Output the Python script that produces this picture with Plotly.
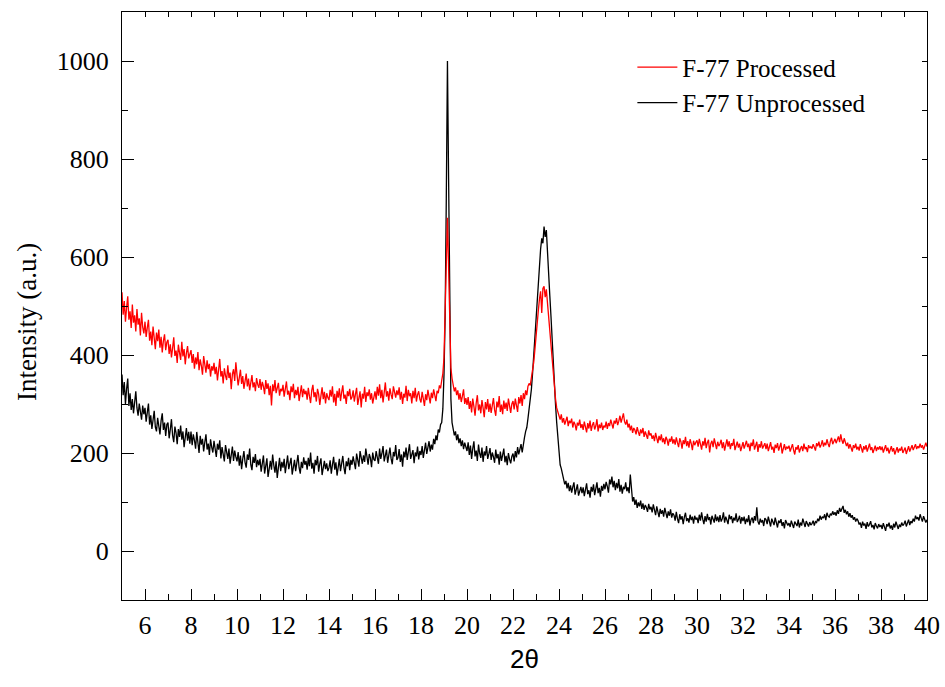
import numpy as np
import plotly.graph_objects as go

# 2-theta sampling grid (degrees), 0.05 deg step from 5.00 to 40.00
two_theta = np.round(np.arange(0, 701) * 0.05 + 5.0, 2)

# F-77 Unprocessed intensity (a.u.); two lines per degree (x.00 ... x.95)
unprocessed = [
    360, 318, 345, 300, 331, 352, 296, 322, 288, 310,
    281, 305, 326, 292, 276, 301, 284, 268, 297, 279,
    292, 264, 283, 301, 258, 277, 249, 270, 286, 253,
    244, 272, 259, 238, 266, 281, 247, 262, 235, 258,
    262, 230, 248, 269, 236, 222, 254, 241, 218, 249,
    233, 256, 227, 244, 212, 238, 251, 225, 243, 219,
    244, 216, 238, 226, 209, 243, 221, 200, 235, 217,
    229, 203, 222, 238, 207, 219, 196, 228, 212, 201,
    225, 204, 192, 219, 207, 226, 189, 212, 198, 183,
    216, 201, 188, 209, 178, 196, 213, 184, 205, 192,
    183, 202, 174, 195, 167, 188, 204, 181, 170, 197,
    186, 209, 176, 165, 192, 180, 198, 171, 186, 175,
    188, 162, 180, 195, 158, 176, 189, 151, 172, 184,
    166, 197, 175, 160, 183, 149, 170, 190, 163, 182,
    170, 188, 159, 181, 195, 167, 178, 190, 156, 174,
    186, 163, 179, 196, 170, 158, 182, 169, 191, 176,
    184, 166, 190, 173, 201, 168, 180, 158, 186, 175,
    194, 162, 178, 189, 155, 172, 184, 167, 179, 163,
    170, 185, 158, 176, 192, 166, 181, 154, 172, 188,
    163, 179, 194, 170, 157, 183, 173, 190, 165, 186,
    176, 193, 181, 167, 199, 185, 172, 204, 188, 178,
    195, 182, 209, 186, 176, 198, 190, 171, 201, 187,
    184, 204, 192, 178, 209, 188, 199, 214, 183, 196,
    207, 180, 194, 211, 189, 177, 202, 193, 216, 186,
    190, 208, 182, 197, 172, 203, 191, 211, 186, 199,
    218, 188, 196, 206, 179, 201, 193, 213, 187, 204,
    196, 214, 190, 209, 221, 198, 212, 224, 203, 217,
    207, 229, 218, 236, 226, 248, 242, 258, 262, 290,
    360, 480, 720, 1000, 760, 450, 310, 262, 248, 236,
    244, 226, 238, 220, 230, 214, 226, 208, 221, 212,
    204, 222, 196, 215, 188, 209, 224, 193, 205, 184,
    217, 199, 190, 211, 182, 203, 195, 214, 188, 198,
    210, 186, 201, 192, 180, 207, 189, 198, 176, 203,
    184, 196, 209, 181, 194, 175, 200, 187, 179, 193,
    199, 183, 204, 191, 212, 197, 206, 218, 201, 224,
    232, 244, 252, 270, 288, 310, 330, 362, 400, 440,
    486, 522, 558, 594, 616, 638, 628, 662, 641, 655,
    602, 568, 522, 480, 428, 384, 338, 298, 262, 228,
    192, 176, 168, 158, 150, 136, 143, 128, 139, 122,
    134, 119, 131, 140, 115, 127, 136, 113, 125, 131,
    118, 130, 112, 127, 138, 116, 124, 109, 131, 121,
    136, 114, 126, 140, 118, 129, 111, 133, 123, 137,
    126, 141, 132, 119, 146, 136, 152, 130, 143, 124,
    139, 128, 147, 121, 135, 117, 131, 126, 140, 122,
    130, 118, 156, 124, 101, 110, 94, 105, 88, 99,
    91, 103, 86, 97, 84, 94, 89, 80, 96, 85,
    90, 79, 95, 84, 73, 91, 80, 69, 86, 76,
    83, 70, 88, 74, 67, 81, 72, 85, 68, 77,
    73, 62, 80, 66, 57, 75, 64, 71, 55, 69,
    78, 61, 67, 58, 74, 63, 70, 56, 72, 64,
    68, 57, 74, 62, 79, 65, 55, 71, 60, 76,
    63, 69, 54, 72, 66, 58, 75, 61, 70, 59,
    73, 60, 66, 79, 58, 70, 63, 55, 74, 65,
    71, 57, 68, 62, 77, 59, 64, 72, 56, 69,
    61, 70, 55, 66, 59, 73, 52, 64, 68, 57,
    71, 62, 89, 60, 54, 66, 58, 63, 51, 67,
    64, 55, 70, 58, 50, 66, 61, 53, 68, 56,
    48, 62, 57, 65, 51, 59, 46, 63, 55, 52,
    57, 49, 62, 53, 47, 60, 55, 51, 64, 48,
    58, 52, 66, 54, 49, 61, 56, 50, 59, 53,
    56, 62, 52, 60, 58, 66, 61, 72, 64, 70,
    67, 75, 63, 78, 71, 69, 76, 73, 81, 74,
    79, 72, 83, 76, 88, 80, 86, 92, 78, 84,
    75, 81, 70, 77, 68, 73, 64, 69, 60, 66,
    62, 54, 58, 47, 60, 52, 56, 45, 59, 50,
    54, 61, 48, 53, 44, 57, 51, 46, 55, 49,
    53, 45, 57, 49, 41, 55, 50, 58, 46, 52,
    43, 56, 48, 60, 51, 45, 54, 49, 58, 52,
    55, 62, 50, 58, 64, 53, 61, 57, 66, 60,
    72, 65, 69, 62, 75, 67, 60, 71, 63, 58,
    64,
]

# F-77 Processed intensity (a.u.)
processed = [
    528, 482, 510, 468, 497, 520, 472, 489, 455, 503,
    466, 481, 448, 494, 462, 475, 440, 486, 457, 444,
    468, 437, 456, 472, 429, 448, 420, 458, 435, 412,
    446, 428, 452, 415, 437, 405, 429, 442, 410, 426,
    431, 402, 422, 395, 414, 436, 398, 409, 384, 421,
    405, 390, 427, 397, 412, 381, 404, 418, 393, 400,
    410, 384, 402, 372, 395, 381, 406, 369, 391, 378,
    360, 398, 385, 364, 389, 371, 382, 356, 377, 368,
    384, 361, 376, 348, 370, 392, 356, 367, 342, 373,
    358, 349, 379, 353, 364, 330, 361, 371, 347, 385,
    360, 338, 354, 370, 341, 357, 331, 349, 362, 336,
    352, 328, 347, 359, 334, 344, 326, 353, 340, 333,
    351, 329, 345, 336, 320, 349, 331, 342, 318, 337,
    297, 340, 326, 349, 322, 335, 343, 317, 331, 326,
    339, 315, 332, 346, 319, 327, 308, 336, 324, 341,
    312, 329, 318, 335, 306, 326, 338, 314, 331, 320,
    327, 309, 333, 316, 302, 328, 339, 314, 324, 305,
    331, 320, 298, 317, 334, 310, 325, 301, 322, 313,
    308, 329, 315, 336, 303, 321, 296, 327, 313, 332,
    306, 324, 338, 311, 319, 300, 326, 316, 331, 309,
    314, 328, 305, 320, 333, 298, 317, 326, 293, 321,
    311, 335, 304, 324, 316, 330, 309, 322, 301, 318,
    326, 309, 335, 317, 340, 312, 329, 303, 321, 344,
    315, 326, 307, 332, 319, 310, 336, 323, 313, 328,
    318, 334, 309, 325, 300, 321, 313, 337, 306, 329,
    316, 322, 301, 327, 312, 333, 305, 319, 326, 310,
    303, 325, 311, 296, 320, 308, 329, 314, 301, 323,
    312, 330, 318, 306, 327, 322, 338, 332, 348, 362,
    395, 470, 585, 680, 560, 432, 374, 352, 338, 326,
    334, 318, 328, 309, 322, 304, 316, 330, 300, 312,
    298, 314, 290, 306, 283, 311, 295, 276, 302, 318,
    287, 299, 281, 308, 292, 273, 304, 289, 310, 284,
    301, 282, 297, 312, 288, 276, 305, 293, 316, 284,
    299, 279, 307, 290, 303, 286, 311, 295, 282, 300,
    306, 289, 311, 297, 284, 314, 301, 318, 296, 322,
    310, 328, 318, 336, 342, 338, 352, 368, 385, 410,
    442, 468, 490, 514, 530, 486, 536, 540, 518, 534,
    505, 488, 462, 430, 392, 360, 332, 310, 292, 281,
    276, 268, 279, 262, 271, 258, 267, 274, 255, 266,
    261, 270, 252, 264, 258, 246, 262, 256, 268, 251,
    259, 247, 264, 253, 242, 261, 250, 266, 245, 257,
    263, 248, 255, 269, 244, 258, 251, 262, 247, 256,
    252, 264, 249, 261, 255, 268, 258, 250, 266, 260,
    271, 257, 265, 276, 262, 270, 281, 264, 258, 268,
    252, 260, 246, 256, 241, 251, 247, 238, 253, 243,
    235, 248, 240, 251, 233, 244, 238, 229, 246, 236,
    240, 229, 236, 224, 241, 231, 220, 235, 226, 238,
    222, 230, 218, 233, 227, 215, 229, 223, 234, 219,
    228, 217, 232, 221, 212, 230, 223, 209, 226, 218,
    233, 214, 224, 211, 228, 219, 206, 225, 216, 222,
    226, 213, 229, 218, 207, 224, 215, 231, 210, 221,
    227, 201, 219, 225, 212, 230, 216, 208, 223, 214,
    219, 227, 210, 222, 205, 218, 228, 213, 224, 208,
    220, 215, 229, 206, 217, 223, 211, 219, 204, 216,
    222, 209, 217, 225, 212, 219, 204, 221, 214, 228,
    207, 216, 223, 202, 218, 211, 224, 209, 215, 220,
    208, 219, 204, 215, 222, 207, 213, 200, 217, 210,
    220, 205, 214, 221, 199, 212, 218, 206, 213, 209,
    215, 203, 211, 218, 206, 197, 212, 207, 216, 201,
    209, 214, 204, 219, 208, 212, 202, 216, 210, 213,
    209, 218, 212, 205, 220, 214, 223, 211, 217, 226,
    213, 221, 216, 228, 219, 212, 224, 231, 218, 225,
    229, 220, 227, 234, 222, 238, 226, 219, 230, 224,
    214, 221, 209, 218, 212, 203, 216, 210, 219, 207,
    213, 205, 218, 209, 201, 214, 207, 216, 203, 211,
    219, 206, 212, 200, 210, 215, 204, 212, 207, 214,
    206, 213, 201, 209, 216, 204, 211, 199, 208, 214,
    203, 210, 197, 206, 212, 201, 209, 205, 213, 200,
    204, 211, 198, 207, 214, 203, 209, 216, 206, 212,
    218, 208, 214, 210, 219, 211, 216, 207, 215, 221,
    213,
]

assert len(unprocessed) == len(two_theta), len(unprocessed)
assert len(processed) == len(two_theta), len(processed)

series_names = ["F-77 Unprocessed", "F-77 Processed"]
x_range = [5, 40]
y_range = [-100, 1100]

SERIF = "Liberation Serif, Times New Roman, serif"

fig = go.Figure()
fig.add_trace(go.Scatter(x=two_theta, y=unprocessed, mode="lines", name=series_names[0],
                         line=dict(color="#000000", width=1.3)))
fig.add_trace(go.Scatter(x=two_theta, y=processed, mode="lines", name=series_names[1],
                         line=dict(color="#FF0000", width=1.3)))
# empty trace to activate the mirrored top/right tick axes
fig.add_trace(go.Scatter(x=[], y=[], xaxis="x2", yaxis="y2", showlegend=False, hoverinfo="skip"))

fig.update_layout(
    width=945, height=687,
    margin=dict(l=122, r=18, t=12, b=87, autoexpand=False),
    paper_bgcolor="white", plot_bgcolor="white",
    showlegend=True,
    legend=dict(x=0.634, y=0.945, xanchor="left", yanchor="top",
                traceorder="reversed", bgcolor="rgba(0,0,0,0)",
                font=dict(family=SERIF, size=25, color="black"),
                itemwidth=40, tracegroupgap=0),
    xaxis=dict(range=x_range, showline=True, linecolor="black", linewidth=1.2,
               ticks="inside", ticklen=11, tickwidth=1, tickcolor="black",
               tick0=0, dtick=2, showgrid=False, zeroline=False, automargin=False,
               minor=dict(ticks="inside", ticklen=6, dtick=1, tick0=0, tickcolor="black"),
               tickfont=dict(family=SERIF, size=26, color="black"),
               ticklabelstandoff=2),
    yaxis=dict(range=y_range, showline=True, linecolor="black", linewidth=1.2,
               ticks="inside", ticklen=12, tickwidth=1, tickcolor="black",
               tick0=0, dtick=200, showgrid=False, zeroline=False, automargin=False,
               minor=dict(ticks="inside", ticklen=6, dtick=100, tick0=0, tickcolor="black"),
               tickfont=dict(family=SERIF, size=26, color="black"),
               ticklabelstandoff=7),
    xaxis2=dict(range=x_range, overlaying="x", side="top", anchor="y", showline=True,
                linecolor="black", linewidth=1.2, ticks="inside", ticklen=5,
                tickcolor="black", tick0=0, dtick=1, showticklabels=False,
                showgrid=False, zeroline=False, automargin=False),
    yaxis2=dict(range=y_range, overlaying="y", side="right", anchor="x", showline=True,
                linecolor="black", linewidth=1.2, ticks="inside", ticklen=5,
                tickcolor="black", tick0=0, dtick=100, showticklabels=False,
                showgrid=False, zeroline=False, automargin=False),
    annotations=[
        dict(text="2θ", x=0.5, y=-0.072, xref="paper", yref="paper",
             xanchor="center", yanchor="top", showarrow=False,
             font=dict(family="Liberation Sans, Arial, sans-serif", size=26, color="black")),
        dict(text="Intensity (a.u.)", x=-0.118, y=0.473, xref="paper", yref="paper",
             xanchor="center", yanchor="middle", showarrow=False, textangle=-90,
             font=dict(family=SERIF, size=27, color="black")),
    ],
)

fig.write_html("out.html")
